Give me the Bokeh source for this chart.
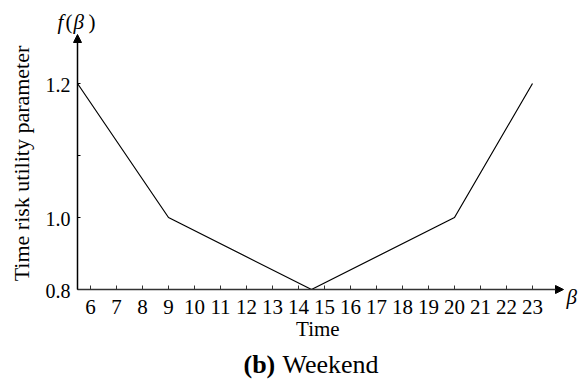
import numpy as np
from bokeh.plotting import figure
from bokeh.models import Arrow, NormalHead, Range1d
from bokeh.core.properties import value
from bokeh.embed import file_html
from bokeh.resources import INLINE

# ---- data ----
hours = [5.5, 9, 14.5, 20, 23]
utility = [1.2, 1.0, 0.8, 1.0, 1.2]
x_ticks = list(range(6, 24))
x_tick_labels = [str(t) for t in x_ticks]
y_tick_values = [0.8, 1.0, 1.1, 1.2]
y_tick_labels = ["0.8", "1.0", "", "1.2"]
x_title = "Time"
y_title = "Time risk utility parameter"
caption_tag = "(b)"
caption_text = "Weekend"

# the reference's vertical axis is not evenly spaced: value -> height above the x axis (px)
axis_values = [0.8, 1.0, 1.1, 1.2]
axis_heights = [0.0, 72.0, 134.0, 206.0]

def ypos(v):
    return list(np.interp(v, axis_values, axis_heights))

# ---- layout (pixels) ----
W, H = 581, 380
ORIGIN_X, ORIGIN_Y = 77, 289        # where the axes cross, in canvas pixels
PX_PER_HOUR = 26
X0 = 5.5                             # hour at the y axis
X_END = X0 + (563 - ORIGIN_X) / PX_PER_HOUR
Y_END = ORIGIN_Y - 34

FONT = value("Liberation Serif")

p = figure(width=W, height=H, output_backend="svg", toolbar_location=None,
           x_range=Range1d(X0 - ORIGIN_X / PX_PER_HOUR, X0 + (W - ORIGIN_X) / PX_PER_HOUR),
           y_range=Range1d(-(H - ORIGIN_Y), ORIGIN_Y),
           min_border=0)
p.axis.visible = False
p.grid.visible = False
p.outline_line_color = None
p.background_fill_color = "white"
p.border_fill_color = "white"

# series
p.line(hours, ypos(utility), line_color="black", line_width=1.2)

# axes with arrow heads
p.add_layout(Arrow(end=NormalHead(size=8, fill_color="black", line_color="black", line_width=1),
                   x_start=X0, y_start=0, x_end=X_END, y_end=0,
                   line_color="#333333", line_width=1.5))
p.add_layout(Arrow(end=NormalHead(size=8, fill_color="black", line_color="black", line_width=1),
                   x_start=X0, y_start=0, x_end=X0, y_end=Y_END,
                   line_color="black", line_width=1.5))

# x ticks and labels
p.segment(x0=x_ticks, y0=[0] * len(x_ticks), x1=x_ticks, y1=[4] * len(x_ticks),
          line_color="#333333", line_width=1)
p.text(x=x_ticks, y=[0] * len(x_ticks), text=x_tick_labels, y_offset=17,
       text_font=FONT, text_font_size="21px", text_align="center",
       text_baseline="alphabetic", text_color="black")

# y ticks and labels
yt = ypos(y_tick_values)
p.segment(x0=[X0] * len(yt), y0=yt, x1=[X0 + 3 / PX_PER_HOUR] * len(yt), y1=yt,
          line_color="black", line_width=1)
p.text(x=[X0] * len(yt), y=yt, text=y_tick_labels, x_offset=-7, y_offset=1,
       text_font=FONT, text_font_size="20px", text_align="right",
       text_baseline="middle", text_color="black")

# axis titles
p.text(x=[(X0 + X_END) / 2 - 0.1], y=[0], text=[x_title], y_offset=39,
       text_font=FONT, text_font_size="21px", text_align="center",
       text_baseline="alphabetic", text_color="black")
p.text(x=[X0], y=[ORIGIN_Y - 163], text=[y_title], x_offset=-(ORIGIN_X - 21),
       angle=np.pi / 2, text_font=FONT, text_font_size="22px", text_align="center",
       text_baseline="alphabetic", text_color="black")

# axis end symbols f(β) and β
def sym(dx, dy, t, style="normal", size="21px"):
    p.text(x=[X0], y=[0], text=[t], x_offset=dx, y_offset=dy,
           text_font=FONT, text_font_size=size, text_font_style=style,
           text_align="left", text_baseline="alphabetic", text_color="black")

sym(-20, -(ORIGIN_Y - 21), "f", "italic")
sym(-12, -(ORIGIN_Y - 21), "(")
sym(-4, -(ORIGIN_Y - 21), "β", "italic")
sym(11, -(ORIGIN_Y - 21), ")")
p.text(x=[X_END], y=[0], text=["β"], x_offset=3, y_offset=7,
       text_font=FONT, text_font_size="21px", text_font_style="italic",
       text_align="left", text_baseline="alphabetic", text_color="black")

# caption
p.text(x=[X0], y=[0], text=[caption_tag], x_offset=243 - ORIGIN_X, y_offset=75,
       text_font=FONT, text_font_size="26px", text_font_style="bold",
       text_align="left", text_baseline="alphabetic", text_color="black")
p.text(x=[X0], y=[0], text=[caption_text], x_offset=282 - ORIGIN_X, y_offset=75,
       text_font=FONT, text_font_size="26px",
       text_align="left", text_baseline="alphabetic", text_color="black")

open("out.html", "w").write(file_html(p, INLINE))
